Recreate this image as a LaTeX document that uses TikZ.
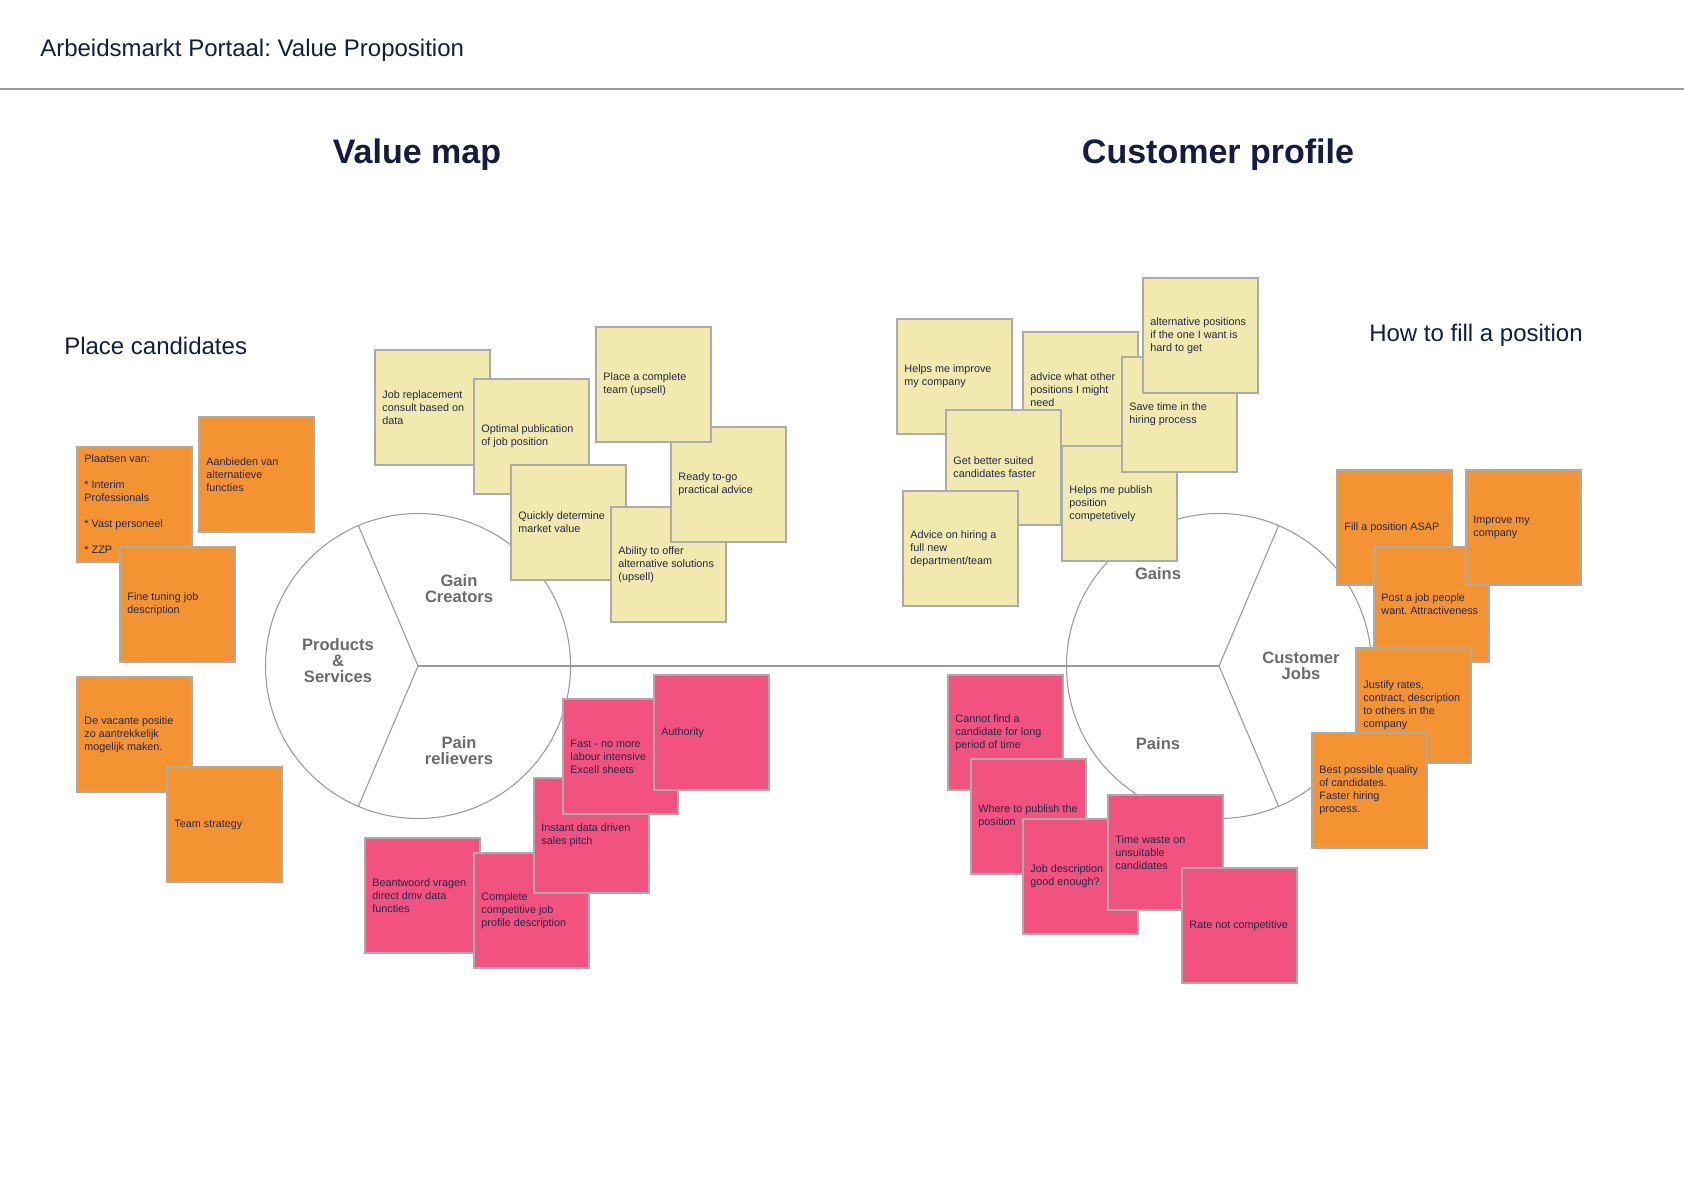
\documentclass[tikz,border=0pt]{standalone}
\usepackage{fontspec}
\setmainfont{Liberation Sans}
\usetikzlibrary{shadows}
\frenchspacing
\definecolor{navy}{HTML}{141C40}
\definecolor{notetxt}{HTML}{23284A}
\definecolor{orangenote}{HTML}{F49332}
\definecolor{yellownote}{HTML}{F1E9AD}
\definecolor{pinknote}{HTML}{F1527F}
\definecolor{noteborder}{HTML}{ABABAB}
\definecolor{wheelgray}{HTML}{9B9B9B}
\definecolor{labelgray}{HTML}{6B6B6B}
\tikzset{
 note/.style={draw=noteborder, line width=1pt, minimum width=86.25pt, minimum height=86.25pt, inner sep=0pt, outer sep=0pt,
   drop shadow={shadow xshift=0.9pt, shadow yshift=-0.9pt, fill=black, opacity=0.15}},
 orangen/.style={fill=orangenote},
 yellown/.style={fill=yellownote},
 pinkn/.style={fill=pinknote},
 notetext/.style={inner sep=0pt, align=left, text=notetxt, font=\fontsize{8.1}{9.75}\selectfont},
 wheel/.style={circle, draw=wheelgray, line width=0.8pt, minimum size=228.75pt, inner sep=0pt, outer sep=0pt},
 wheelline/.style={draw=wheelgray, line width=0.8pt},
 seclabel/.style={align=center, text=labelgray, inner sep=0pt, font=\fontsize{12.4}{12}\selectfont\bfseries},
 heading/.style={text=navy, inner sep=0pt, font=\fontsize{25.5}{30}\selectfont\bfseries},
 subheading/.style={text=navy, inner sep=0pt, font=\fontsize{18}{22}\selectfont},
}
\newcommand{\sticky}[5]{%
  \node[note, #2, anchor=north west] (#1) at (#3,#4) {};
  \node[notetext, anchor=west] (#1t) at ([xshift=5.4pt]#1.west) {#5};
}
\begin{document}
\begin{tikzpicture}[x=0.75pt, y=-0.75pt]
\fill[white] (0,0) rectangle (1684,1191);
\useasboundingbox (0,0) rectangle (1684,1191);

% header
\node[subheading, anchor=base west] (title) at (40,57) {Arbeidsmarkt Portaal: Value Proposition};
\coordinate (rulel) at (0,89);
\coordinate (ruler) at (1684,89);
\draw[draw=wheelgray, line width=1pt] (rulel) -- (ruler);

\node[heading, anchor=base] (vmap) at (417,164) {Value map};
\node[heading, anchor=base] (cprof) at (1218,164) {Customer profile};
\node[subheading, anchor=base west] (place) at (64,354) {Place candidates};
\node[subheading, anchor=base west] (howto) at (1369,341) {How to fill a position};

% wheels
\node[wheel] (c1) at (418,666) {};
\node[wheel] (c2) at (1219,666) {};
\draw[wheelline] (c1.center) -- (c2.center);
\draw[wheelline] (c1.center) -- (c1.113);
\draw[wheelline] (c1.center) -- (c1.-113);
\draw[wheelline] (c2.center) -- (c2.67);
\draw[wheelline] (c2.center) -- (c2.-67);

\node[seclabel] (gc) at (459,589) {Gain\\Creators};
\node[seclabel] (ps) at (338,661) {Products\\\&\\Services};
\node[seclabel] (pr) at (459,751) {Pain\\relievers};
\node[seclabel] (gn) at (1158,574) {Gains};
\node[seclabel] (cj) at (1301,666) {Customer\\Jobs};
\node[seclabel] (pn) at (1158,744) {Pains};

% left orange
\sticky{o1}{orangen}{77}{447}{Plaatsen van:\\[9.75pt]* Interim\\Professionals\\[9.75pt]* Vast personeel\\[9.75pt]* ZZP}
\sticky{o2}{orangen}{199}{417}{Aanbieden van\\alternatieve\\functies}
\sticky{o3}{orangen}{120}{547}{Fine tuning job\\description}
\sticky{o4}{orangen}{77}{677}{De vacante positie\\zo aantrekkelijk\\mogelijk maken.}
\sticky{o5}{orangen}{167}{767}{Team strategy}

% left yellow
\sticky{y1}{yellown}{375}{350}{Job replacement\\consult based on\\data}
\sticky{y2}{yellown}{474}{379}{Optimal publication\\of job position}
\sticky{y3}{yellown}{511}{465}{Quickly determine\\market value}
\sticky{y4}{yellown}{611}{507}{Ability to offer\\alternative solutions\\(upsell)}
\sticky{y5}{yellown}{671}{427}{Ready to-go\\practical advice}
\sticky{y6}{yellown}{596}{327}{Place a complete\\team (upsell)}

% left pink
\sticky{p1}{pinkn}{365}{838}{Beantwoord vragen\\direct dmv data\\functies}
\sticky{p2}{pinkn}{474}{853}{Complete\\competitive job\\profile description}
\sticky{p3}{pinkn}{534}{778}{Instant data driven\\sales pitch}
\sticky{p4}{pinkn}{563}{699}{Fast - no more\\labour intensive\\Excell sheets}
\sticky{p5}{pinkn}{654}{675}{Authority}

% right yellow
\sticky{y7}{yellown}{897}{319}{Helps me improve\\my company}
\sticky{y8}{yellown}{1023}{332}{advice what other\\positions I might\\need}
\sticky{y9}{yellown}{946}{410}{Get better suited\\candidates faster}
\sticky{y10}{yellown}{903}{491}{Advice on hiring a\\full new\\department/team}
\sticky{y11}{yellown}{1062}{446}{Helps me publish\\position\\competetively}
\sticky{y12}{yellown}{1122}{357}{Save time in the\\hiring process}
\sticky{y13}{yellown}{1143}{278}{alternative positions\\if the one I want is\\hard to get}

% right pink
\sticky{p6}{pinkn}{948}{675}{Cannot find a\\candidate for long\\period of time}
\sticky{p7}{pinkn}{971}{759}{Where to publish the\\position}
\sticky{p8}{pinkn}{1023}{819}{Job description\\good enough?}
\sticky{p9}{pinkn}{1108}{795}{Time waste on\\unsuitable\\candidates}
\sticky{p10}{pinkn}{1182}{868}{Rate not competitive}

% right orange
\sticky{o6}{orangen}{1337}{470}{Fill a position ASAP}
\sticky{o7}{orangen}{1374}{547}{Post a job people\\want. Attractiveness}
\sticky{o8}{orangen}{1466}{470}{Improve my\\company}
\sticky{o9}{orangen}{1356}{648}{Justify rates,\\contract, description\\to others in the\\company}
\sticky{o10}{orangen}{1312}{733}{Best possible quality\\of candidates.\\Faster hiring\\process.}
\end{tikzpicture}
\end{document}
